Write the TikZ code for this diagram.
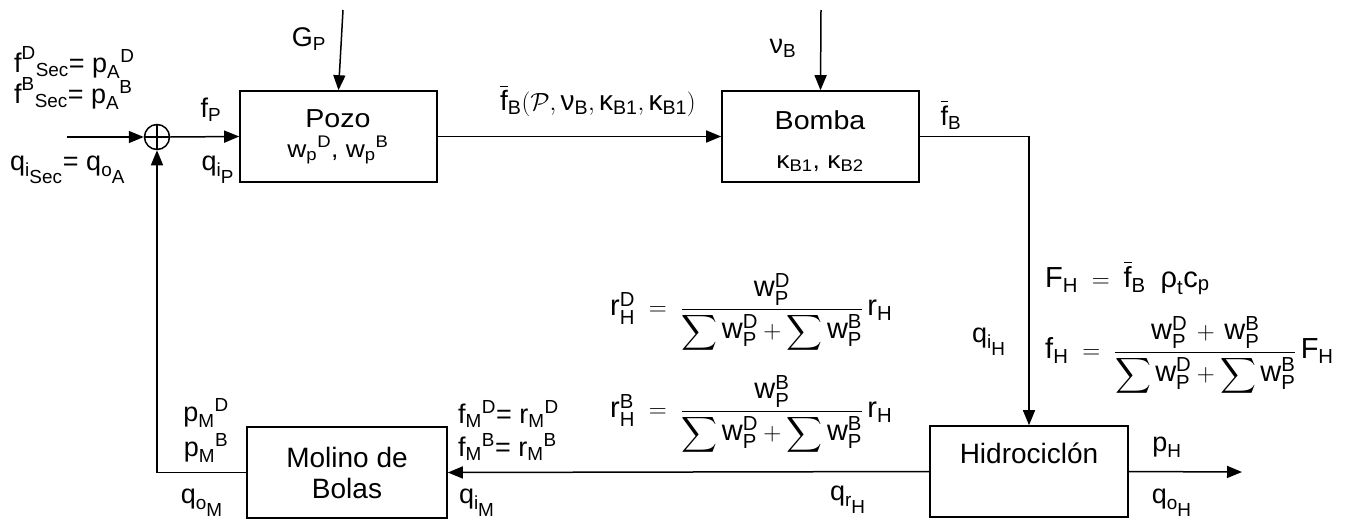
\documentclass[tikz,border=0pt]{standalone}
\usepackage{amsmath}
\usepackage{graphicx}
\usepackage{fontspec}
\setmainfont{Liberation Sans}
\usetikzlibrary{arrows.meta,calc}
\newcommand\T[1]{\text{#1}}
\newcommand\fb{\overline{\T{f}}_{\T{B}}}
\newcommand\sx[1]{\scalebox{1.1}[1]{#1}}
\begin{document}
\begin{tikzpicture}[x=1pt,y=-1pt,
  blk/.style={draw,line width=1.6pt,rectangle,inner sep=0pt},
  lab/.style={font=\fontsize{27}{32}\selectfont,inner sep=0pt,anchor=base},
  blab/.style={font=\fontsize{28}{33}\selectfont,inner sep=0pt,anchor=base},
  mblab/.style={font=\fontsize{26}{30}\selectfont,inner sep=0pt,anchor=base},
  sblab/.style={font=\fontsize{24}{28}\selectfont,inner sep=0pt,anchor=base},
  eq/.style={font=\fontsize{29}{34}\selectfont,inner sep=0pt,anchor=west},
  con/.style={line width=1.5pt,-{Triangle[length=15pt,width=12pt]}},
  pl/.style={line width=1.5pt}]
\useasboundingbox (0,0) rectangle (1354,520);
% blocks
\node[blk,minimum width=197pt,minimum height=91pt] (pozo) at (338.5,136.5) {};
\node[blk,minimum width=197pt,minimum height=91pt] (bomba) at (820.5,136.5) {};
\node[blk,minimum width=198pt,minimum height=91pt] (hidro) at (1029,471.5) {};
\node[blk,minimum width=200pt,minimum height=91pt] (molino) at (347,472.5) {};
\node[draw,circle,line width=1.5pt,minimum size=25pt,inner sep=0pt] (sum) at (157,137) {};
\draw[pl] (sum.north) -- (sum.south) (sum.west) -- (sum.east);
% block texts
\node[mblab] (tpozo) at (338,127) {\sx{Pozo}};
\node[sblab] (tpozow) at (338,157) {\sx{$\T{w}_{\T{p}}{}^{\T{D}}\T{, w}_{\T{p}}{}^{\T{B}}$}};
\node[mblab] (tbomba) at (820,129) {\sx{Bomba}};
\node[sblab] (tbombak) at (820,168) {\sx{$\T{κ}_{\T{B1}}\T{, κ}_{\T{B2}}$}};
\node[blab] (thidro) at (1029,463) {Hidrociclón};
\node[blab] (tmol1) at (347,467) {Molino de};
\node[blab] (tmol2) at (347,498) {Bolas};
% coordinates
\coordinate (in) at (67,137);
\coordinate (gp) at (343,10);
\coordinate (nb) at (821,10);
\coordinate (out) at (1242,472);
% connectors
\draw[con] (in) -- (sum.west);
\draw[con] (sum.east) -- (pozo.west);
\draw[con] (gp) -- (pozo.north);
\draw[con] (pozo.east) -- (bomba.west);
\draw[con] (nb) -- (bomba.north);
\draw[con] (bomba.east) -| (hidro.north);
\draw[con] (hidro.west) -- (molino.east);
\draw[con] (hidro.east) -- (out);
\draw[con] (molino.west) -| (sum.south);
% labels
\node[lab,anchor=base west] (l1) at (14,72) {$\T{f}^{\T{D}}{}_{\T{Sec}}\T{= p}_{\T{A}}{}^{\T{D}}$};
\node[lab,anchor=base west] (l2) at (14,103) {$\T{f}^{\T{B}}{}_{\T{Sec}}\T{= p}_{\T{A}}{}^{\T{B}}$};
\node[lab,anchor=base west] (l3) at (10,170) {$\T{q}_{\T{i}_{\scriptstyle\T{Sec}}}\T{= q}_{\T{o}_{\scriptstyle\T{A}}}$};
\node[lab] (fp) at (211,117) {$\T{f}_{\T{P}}$};
\node[lab] (qip) at (218,170) {$\T{q}_{\T{i}_{\scriptstyle\T{P}}}$};
\node[lab] (gpl) at (309,46) {$\T{G}_{\T{P}}$};
\node[lab] (nbl) at (783,53) {$\T{ν}_{\T{B}}$};
\node[lab,anchor=base west,font=\fontsize{28}{33}\selectfont] (fbl) at (500,110) {$\fb(\mathcal{P}, \T{ν}_{\T{B}}, \T{κ}_{\T{B1}}, \T{κ}_{\T{B1}})$};
\node[lab] (fbo) at (951,125) {$\fb$};
\node[lab] (qih) at (989,342) {$\T{q}_{\T{i}_{\scriptstyle\T{H}}}$};
\node[eq,anchor=base west] (FH) at (1045,287) {$\T{F}_{\T{H}} \;=\; \fb\;\ \T{ρ}_{\T{t}}\T{c}_{\T{p}}$};
\node[eq] (fH) at (1045,356) {$\T{f}_{\T{H}} \;=\; \dfrac{\T{w}_{\T{P}}^{\T{D}}\,+\,\T{w}_{\T{P}}^{\T{B}}}{\displaystyle\sum \T{w}_{\T{P}}^{\T{D}} + \sum \T{w}_{\T{P}}^{\T{B}}}\,\T{F}_{\T{H}}$};
\node[eq] (rD) at (610,313) {$\T{r}_{\T{H}}^{\T{D}} \;=\; \dfrac{\T{w}_{\T{P}}^{\T{D}}}{\displaystyle\sum \T{w}_{\T{P}}^{\T{D}} + \sum \T{w}_{\T{P}}^{\T{B}}}\,\T{r}_{\T{H}}$};
\node[eq] (rB) at (610,415) {$\T{r}_{\T{H}}^{\T{B}} \;=\; \dfrac{\T{w}_{\T{P}}^{\T{B}}}{\displaystyle\sum \T{w}_{\T{P}}^{\T{D}} + \sum \T{w}_{\T{P}}^{\T{B}}}\,\T{r}_{\T{H}}$};
\node[lab,anchor=base west] (fmd) at (458,423) {$\T{f}_{\T{M}}{}^{\T{D}}\T{= r}_{\T{M}}{}^{\T{D}}$};
\node[lab,anchor=base west] (fmb) at (458,456) {$\T{f}_{\T{M}}{}^{\T{B}}\T{= r}_{\T{M}}{}^{\T{B}}$};
\node[lab] (qim) at (477,503) {$\T{q}_{\T{i}_{\scriptstyle\T{M}}}$};
\node[lab] (qrh) at (848,500) {$\T{q}_{\T{r}_{\scriptstyle\T{H}}}$};
\node[lab] (pmd) at (206,421) {$\T{p}_{\T{M}}{}^{\T{D}}$};
\node[lab] (pmb) at (206,456) {$\T{p}_{\T{M}}{}^{\T{B}}$};
\node[lab] (qom) at (202,503) {$\T{q}_{\T{o}_{\scriptstyle\T{M}}}$};
\node[lab] (ph) at (1167,451) {$\T{p}_{\T{H}}$};
\node[lab] (qoh) at (1172,503) {$\T{q}_{\T{o}_{\scriptstyle\T{H}}}$};
\end{tikzpicture}
\end{document}
